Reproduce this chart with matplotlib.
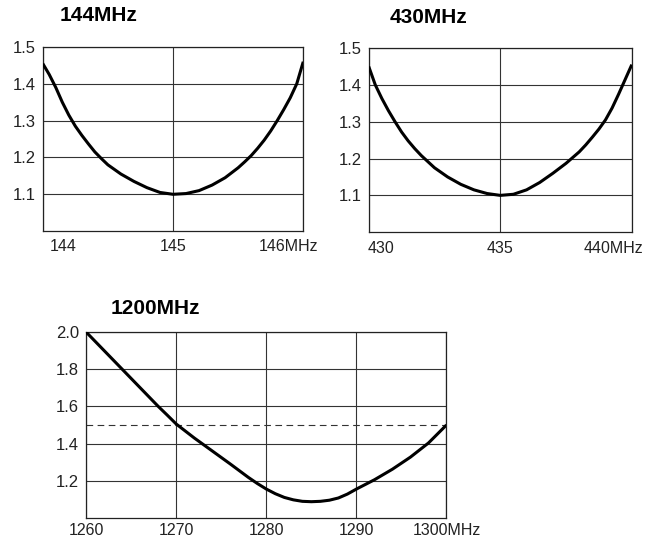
import numpy as np
import matplotlib
matplotlib.use("Agg")
import matplotlib.pyplot as plt
from matplotlib.transforms import ScaledTranslation

# 144MHz band SWR
f144 = [144.0, 144.05, 144.1, 144.15, 144.2, 144.25, 144.3, 144.35, 144.4, 144.45, 144.5,
        144.6, 144.7, 144.8, 144.9, 145.0, 145.1, 145.2, 145.3, 145.4, 145.5,
        145.55, 145.6, 145.65, 145.7, 145.75, 145.8, 145.85, 145.9, 145.95, 146.0]
swr144 = [1.455, 1.425, 1.39, 1.35, 1.315, 1.285, 1.26, 1.237, 1.215, 1.197, 1.18,
          1.155, 1.135, 1.118, 1.105, 1.10, 1.102, 1.11, 1.125, 1.145, 1.172,
          1.188, 1.205, 1.225, 1.247, 1.272, 1.30, 1.33, 1.362, 1.40, 1.46]

# 430MHz band SWR
f430 = [430.0, 430.25, 430.5, 430.75, 431.0, 431.25, 431.5, 431.75, 432.0, 432.5, 433.0,
        433.5, 434.0, 434.5, 435.0, 435.5, 436.0, 436.5, 437.0, 437.5, 438.0,
        438.25, 438.5, 438.75, 439.0, 439.25, 439.5, 439.75, 440.0]
swr430 = [1.45, 1.40, 1.363, 1.33, 1.30, 1.272, 1.248, 1.227, 1.208, 1.175, 1.15,
          1.13, 1.115, 1.105, 1.10, 1.103, 1.115, 1.135, 1.16, 1.187, 1.218,
          1.237, 1.258, 1.28, 1.305, 1.337, 1.375, 1.415, 1.455]

# 1200MHz band SWR
f1200 = [1260, 1261, 1262, 1263, 1264, 1265, 1266, 1267, 1268, 1269, 1270,
         1272, 1274, 1276, 1278, 1279, 1280, 1281, 1282, 1283, 1284, 1285,
         1286, 1287, 1288, 1289, 1290, 1292, 1294, 1296, 1298, 1300]
swr1200 = [2.0, 1.95, 1.90, 1.85, 1.80, 1.75, 1.70, 1.65, 1.60, 1.553, 1.505,
           1.43, 1.36, 1.29, 1.218, 1.185, 1.155, 1.13, 1.11, 1.097, 1.089, 1.087,
           1.089, 1.095, 1.107, 1.128, 1.155, 1.205, 1.262, 1.327, 1.403, 1.50]

xt144 = [144, 145, 146]
xl144 = ["144", "145", "146MHz"]
xt430 = [430, 435, 440]
xl430 = ["430", "435", "440MHz"]
xt1200 = [1260, 1270, 1280, 1290, 1300]
xl1200 = ["1260", "1270", "1280", "1290", "1300MHz"]
yt_small = [1.1, 1.2, 1.3, 1.4, 1.5]
yt_big = [1.2, 1.4, 1.6, 1.8, 2.0]

tick_font = ["Liberation Sans", "DejaVu Sans"]
title_font = ["Liberation Sans", "DejaVu Sans"]

fig = plt.figure(figsize=(6.48, 5.4), dpi=100)


def panel(rect, xs, ys, xt, xl, yt, xlim, ylim, title, title_x, title_dy, label_shift, xpad):
    ax = fig.add_axes(rect)
    ax.plot(xs, ys, color="black", lw=2.2, solid_capstyle="butt", solid_joinstyle="round", zorder=3)
    ax.set_xlim(xlim)
    ax.set_ylim(ylim)
    ax.set_xticks(xt)
    ax.set_xticklabels(xl, family=tick_font, fontsize=11.5, color="#222222")
    ax.set_yticks(yt)
    ax.set_yticklabels(["%.1f" % v for v in yt], family=tick_font, fontsize=12, color="#222222")
    ax.tick_params(length=0, pad=5)
    ax.tick_params(axis="x", pad=xpad)
    ax.grid(True, color="#333333", lw=0.8)
    for s in ax.spines.values():
        s.set_linewidth(0.9)
        s.set_color("#222222")
    # the printed figure sets some x labels off their ticks
    for lab, dx in zip(ax.get_xticklabels(), label_shift):
        lab.set_transform(lab.get_transform() + ScaledTranslation(dx / 100, 0, fig.dpi_scale_trans))
    fig.text(title_x, rect[1] + rect[3] + title_dy, title, family=title_font,
             fontweight="bold", fontsize=15, ha="left", va="center")
    return ax


panel([0.066, 0.572, 0.402, 0.341], f144, swr144, xt144, xl144, yt_small,
      (144, 146), (1.0, 1.5), "144MHz", 0.092, 0.059, [20, 0, -15], 6)
panel([0.569, 0.570, 0.406, 0.341], f430, swr430, xt430, xl430, yt_small,
      (430, 440), (1.0, 1.5), "430MHz", 0.602, 0.056, [12, 0, -18], 6)
ax3 = panel([0.133, 0.041, 0.556, 0.344], f1200, swr1200, xt1200, xl1200, yt_big,
            (1260, 1300), (1.0, 2.0), "1200MHz", 0.171, 0.044, [0, 0, 0, 0, 0], 3.5)
ax3.axhline(1.5, color="#333333", lw=0.8, ls=(0, (6, 4)), zorder=2)

fig.savefig("out.png", dpi=100)
